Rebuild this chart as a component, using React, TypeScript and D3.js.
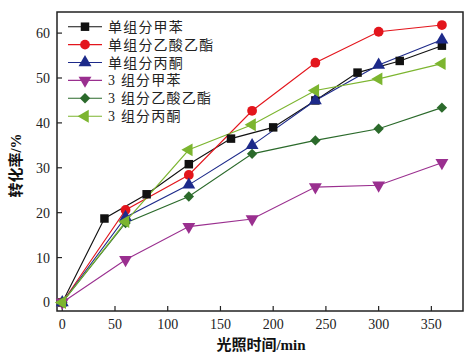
import { useRef, useEffect } from "react";
import * as d3 from "d3";

const WIDTH = 473;
const HEIGHT = 361;

const times = [0, 60, 120, 180, 240, 300, 360];
const tolueneTimes = [0, 40, 80, 120, 160, 200, 240, 280, 320, 360];

const seriesNames = ["单组分甲苯", "单组分乙酸乙酯", "单组分丙酮", "3 组分甲苯", "3 组分乙酸乙酯", "3 组分丙酮"];
const singleToluene = [0, 18.7, 24.1, 30.8, 36.5, 39.0, 45.0, 51.2, 53.8, 57.2];
const singleEthylAcetate = [0, 20.6, 28.4, 42.7, 53.4, 60.3, 61.8];
const singleAcetone = [0, 19.0, 26.2, 35.0, 45.0, 52.9, 58.5];
const triToluene = [0, 9.5, 16.9, 18.6, 25.7, 26.1, 31.1];
const triEthylAcetate = [0, 17.7, 23.6, 33.1, 36.1, 38.7, 43.4];
const triAcetone = [0, 18.0, 34.0, 39.6, 47.2, 49.8, 53.2];

const xTicks = [0, 50, 100, 150, 200, 250, 300, 350];
const yTicks = [0, 10, 20, 30, 40, 50, 60];

const colors = ["#111111", "#e3151c", "#1d2a8a", "#9a2f8f", "#2b6a2b", "#7cb52f"];
const shapes = ["square", "circle", "triangle", "down", "diamond", "left"];

const MARGIN = { top: 12, right: 10, bottom: 50, left: 57 };

export default function App() {
  const svgRef = useRef<SVGSVGElement>(null);

  useEffect(() => {
    document.body.style.margin = "0";
    if (!svgRef.current) return;
    const svg = d3.select(svgRef.current);
    svg.selectAll("*").remove();

    const x = d3.scaleLinear().domain([-5, 380]).range([MARGIN.left, WIDTH - MARGIN.right]);
    const y = d3.scaleLinear().domain([-1.9, 64.7]).range([HEIGHT - MARGIN.bottom, MARGIN.top]);

    const numFont = "'Liberation Serif', 'Times New Roman', serif";
    const cjkFont = "'Liberation Serif', 'Noto Sans CJK SC', serif";

    const data = [
      tolueneTimes.map((t, i) => [t, singleToluene[i]]),
      times.map((t, i) => [t, singleEthylAcetate[i]]),
      times.map((t, i) => [t, singleAcetone[i]]),
      times.map((t, i) => [t, triToluene[i]]),
      times.map((t, i) => [t, triEthylAcetate[i]]),
      times.map((t, i) => [t, triAcetone[i]]),
    ] as [number, number][][];

    const marker = (shape: string) => {
      if (shape === "square") return { d: d3.symbol(d3.symbolSquare, 72)()!, rot: 0 };
      if (shape === "circle") return { d: d3.symbol(d3.symbolCircle, 75)()!, rot: 0 };
      if (shape === "triangle") return { d: d3.symbol(d3.symbolTriangle, 72)()!, rot: 0 };
      if (shape === "down") return { d: d3.symbol(d3.symbolTriangle, 72)()!, rot: 180 };
      if (shape === "left") return { d: d3.symbol(d3.symbolTriangle, 72)()!, rot: -90 };
      return { d: d3.symbol(d3.symbolSquare, 54)()!, rot: 45 };
    };

    // Frame
    svg.append("rect")
      .attr("x", x(-5)).attr("y", y(64.7))
      .attr("width", x(380) - x(-5)).attr("height", y(-1.9) - y(64.7))
      .attr("fill", "none").attr("stroke", "#222").attr("stroke-width", 1.5);

    // Ticks (inward)
    const bottom = y(-1.9);
    const left = x(-5);
    xTicks.forEach((t) => {
      svg.append("line")
        .attr("x1", x(t)).attr("x2", x(t)).attr("y1", bottom).attr("y2", bottom - 5)
        .attr("stroke", "#222").attr("stroke-width", 1.2);
      svg.append("text")
        .attr("x", x(t)).attr("y", bottom + 18)
        .attr("text-anchor", "middle").attr("fill", "#222")
        .style("font-family", numFont).style("font-size", "14px")
        .text(t);
    });
    yTicks.forEach((t) => {
      svg.append("line")
        .attr("x1", left).attr("x2", left + 5).attr("y1", y(t)).attr("y2", y(t))
        .attr("stroke", "#222").attr("stroke-width", 1.2);
      svg.append("text")
        .attr("x", left - 7).attr("y", y(t) + 5)
        .attr("text-anchor", "end").attr("fill", "#222")
        .style("font-family", numFont).style("font-size", "14px")
        .text(t);
    });

    // Axis titles
    svg.append("text")
      .attr("x", 261).attr("y", 350)
      .attr("text-anchor", "middle").attr("fill", "#111")
      .style("font-family", cjkFont).style("font-size", "15px").style("font-weight", "bold")
      .text("光照时间/min");
    svg.append("text")
      .attr("transform", `translate(21,${y(30.5)}) rotate(-90)`)
      .attr("text-anchor", "middle").attr("fill", "#111")
      .style("font-family", cjkFont).style("font-size", "15px").style("font-weight", "bold")
      .text("转化率/%");

    // Series
    const line = d3.line<[number, number]>().x((d) => x(d[0])).y((d) => y(d[1]));
    data.forEach((pts, i) => {
      svg.append("path")
        .datum(pts)
        .attr("fill", "none").attr("stroke", colors[i]).attr("stroke-width", 1.1)
        .attr("d", line);
    });
    data.forEach((pts, i) => {
      const m = marker(shapes[i]);
      svg.selectAll(null)
        .data(pts)
        .join("path")
        .attr("d", m.d)
        .attr("transform", (d) => `translate(${x(d[0])},${y(d[1])}) rotate(${m.rot})`)
        .attr("fill", colors[i]);
    });

    // Legend
    seriesNames.forEach((name, i) => {
      const ly = 26.7 + i * 17.9;
      svg.append("line")
        .attr("x1", 68).attr("x2", 102).attr("y1", ly).attr("y2", ly)
        .attr("stroke", colors[i]).attr("stroke-width", 1.1);
      const m = marker(shapes[i]);
      svg.append("path")
        .attr("d", m.d)
        .attr("transform", `translate(85,${ly}) rotate(${m.rot})`)
        .attr("fill", colors[i]);
      svg.append("text")
        .attr("x", 108).attr("y", ly + 5)
        .attr("fill", "#222")
        .style("font-family", cjkFont).style("font-size", "14px")
        .style("letter-spacing", "1.2px")
        .text(name);
    });
  }, []);

  return (
    <svg
      ref={svgRef}
      width={WIDTH}
      height={HEIGHT}
      style={{ position: "absolute", left: 0, top: 0, background: "#fff" }}
    />
  );
}
